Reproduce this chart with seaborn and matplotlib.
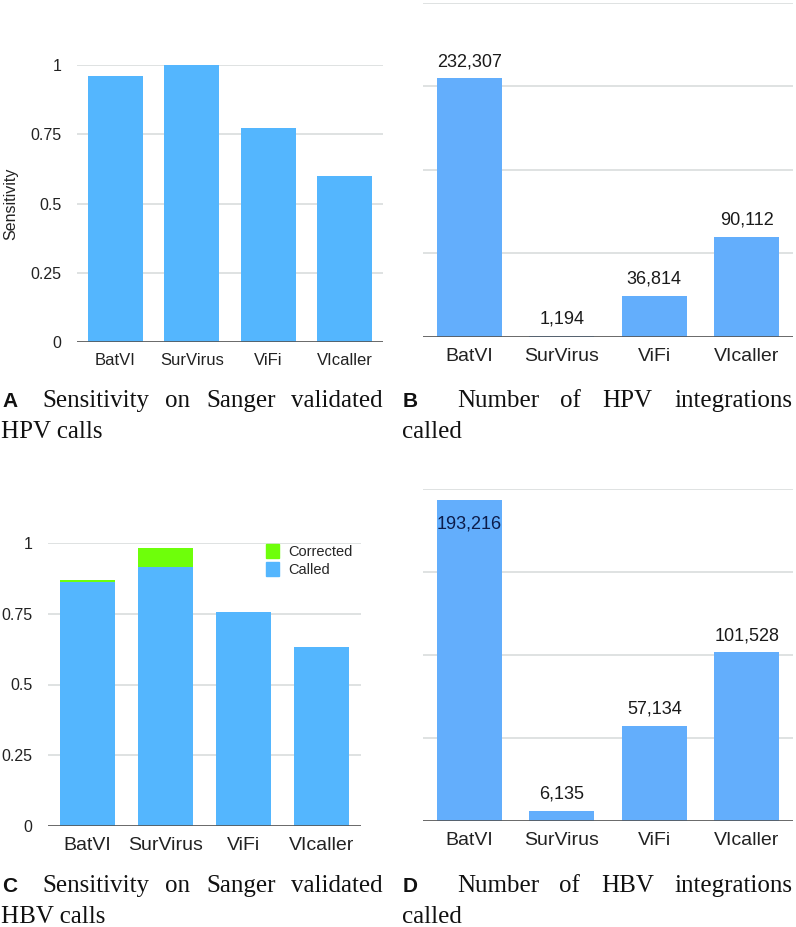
import matplotlib
matplotlib.use("Agg")
import matplotlib.pyplot as plt
import seaborn as sns
import pandas as pd
from matplotlib.patches import Patch

# data
tools = ["BatVI", "SurVirus", "ViFi", "VIcaller"]
hpv_sensitivity = [0.96, 1.0, 0.773, 0.60]
hpv_counts = [232307, 1194, 36814, 90112]
hbv_called = [0.862, 0.915, 0.756, 0.632]
hbv_corrected = [0.006, 0.067, 0.0, 0.0]
hbv_counts = [193216, 6135, 57134, 101528]

captions = [
    ("A", "Sensitivity on Sanger validated", "HPV calls"),
    ("B", "Number of HPV integrations", "called"),
    ("C", "Sensitivity on Sanger validated", "HBV calls"),
    ("D", "Number of HBV integrations", "called"),
]

W, H = 796, 927
BLUE = "#54b6fe"
BLUE2 = "#63aefc"
GREEN = "#6eff0a"
GRID = "#d6dada"

sns.set_theme(style="white")
plt.rcParams["font.family"] = ["Liberation Sans", "DejaVu Sans"]

fig = plt.figure(figsize=(W / 100, H / 100), dpi=100)


def box(x0, y0, x1, y1):
    # pixel box (top-left origin) -> figure fraction rect
    return [x0 / W, 1 - y1 / H, (x1 - x0) / W, (y1 - y0) / H]


def style(ax, top, step, labels, ticksize, catsize):
    ax.set_ylim(0, top)
    ax.set_yticks([step * i for i in range(int(round(top / step)) + 1)])
    ax.yaxis.grid(True, color=GRID, lw=1.1)
    ax.set_axisbelow(True)
    for s in ax.spines.values():
        s.set_visible(False)
    ax.axhline(0, color="#555555", lw=1.2, zorder=5)
    ax.tick_params(axis="both", length=0, colors="#222222")
    ax.tick_params(axis="y", pad=11, labelsize=ticksize)
    ax.tick_params(axis="x", pad=8, labelsize=catsize)
    if not labels:
        ax.set_yticklabels([])
    ax.set_xlabel("")
    ax.set_ylabel("")


def fmt_sens(v):
    return "0" if v == 0 else ("1" if v == 1 else f"{v:g}")


# A: HPV sensitivity
axA = fig.add_axes(box(77, 65, 383, 342))
sns.barplot(x=tools, y=hpv_sensitivity, color=BLUE, saturation=1, width=0.72,
            linewidth=0, ax=axA)
style(axA, 1.0, 0.25, True, 11.5, 12)
axA.set_yticklabels([fmt_sens(t) for t in axA.get_yticks()])
axA.set_ylabel("Sensitivity", fontsize=11.5, labelpad=9, color="#222222")

# C: HBV sensitivity, stacked
axC = fig.add_axes(box(48, 543, 361, 826))
hbv_total = [a + b for a, b in zip(hbv_called, hbv_corrected)]
sns.barplot(x=tools, y=hbv_total, color=GREEN, saturation=1, width=0.70,
            linewidth=0, ax=axC)
sns.barplot(x=tools, y=hbv_called, color=BLUE, saturation=1, width=0.70,
            linewidth=0, ax=axC)
style(axC, 1.0, 0.25, True, 11.5, 14)
axC.set_yticklabels([fmt_sens(t) for t in axC.get_yticks()])
axC.legend(handles=[Patch(color=GREEN, label="Corrected"), Patch(color=BLUE, label="Called")],
           loc="upper left", bbox_to_anchor=(0.695, 0.995), frameon=False,
           fontsize=10.5, handlelength=0.95, handleheight=1.05, handletextpad=0.6,
           labelspacing=0.2, borderpad=0, borderaxespad=0)


def counts_panel(rect, values, top, step):
    ax = fig.add_axes(rect)
    sns.barplot(x=tools, y=values, color=BLUE2, saturation=1, width=0.70,
                linewidth=0, ax=ax)
    style(ax, top, step, False, 11, 14)
    for p, v in zip(ax.patches, values):
        cx = p.get_x() + p.get_width() / 2
        h = p.get_height()
        if h / top > 0.9:
            ax.annotate(f"{v:,}", (cx, h), xytext=(0, -11), textcoords="offset points",
                        ha="center", va="top", fontsize=13, color="#0c1c4a")
        else:
            ax.annotate(f"{v:,}", (cx, h), xytext=(0, 6), textcoords="offset points",
                        ha="center", va="bottom", fontsize=13, color="#1a1a1a")
    return ax


axB = counts_panel(box(423, 3, 793, 337), hpv_counts, 300000, 75000)
axD = counts_panel(box(423, 489, 793, 821), hbv_counts, 200000, 50000)

# captions with a justified first line
renderer = fig.canvas.get_renderer()
SERIF = 18


def caption(letter, line1, line2, xl, x0, x1, y1, y2):
    fig.text(xl / W, 1 - y1 / H, letter, fontsize=15, fontweight="bold",
             va="baseline", ha="left", color="#111111")
    words = line1.split()
    texts = [fig.text(0, 1 - y1 / H, w, fontsize=SERIF, family="Liberation Serif",
                      va="baseline", ha="left", color="#111111") for w in words]
    widths = [t.get_window_extent(renderer).width for t in texts]
    gap = (x1 - x0 - sum(widths)) / (len(words) - 1)
    x = x0
    for t, w in zip(texts, widths):
        t.set_x(x / W)
        x += w + gap
    fig.text((xl - 1) / W, 1 - y2 / H, line2, fontsize=SERIF, family="Liberation Serif",
             va="baseline", ha="left", color="#111111")


caption(*captions[0], 2, 42, 383, 407, 438)
caption(*captions[1], 403, 457, 792, 407, 438)
caption(*captions[2], 2, 42, 383, 892, 923)
caption(*captions[3], 403, 457, 792, 892, 923)

fig.savefig("out.png", dpi=100)
